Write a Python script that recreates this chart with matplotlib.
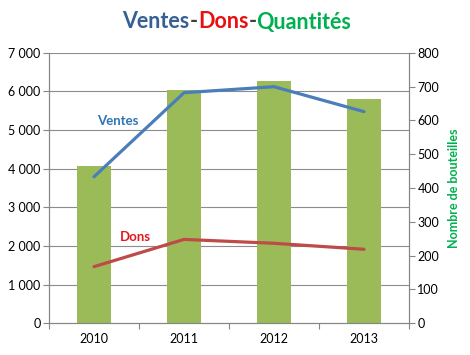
import numpy as np
import matplotlib.pyplot as plt
from matplotlib.ticker import FuncFormatter

plt.rcParams['font.family'] = ['Lato', 'DejaVu Sans']

annees = ['2010', '2011', '2012', '2013']
ventes = [3790, 5965, 6120, 5475]
dons = [1465, 2170, 2070, 1915]
quantites = [465, 690, 717, 664]

fig = plt.figure(figsize=(4.7, 3.55), dpi=100)
ax = fig.add_axes([49/470, 1-323.3/355, 360/470, 270.6/355])
ax2 = ax.twinx()

x = np.arange(len(annees))

# bars on the right axis, lines on the left one
ax2.bar(x, quantites, width=0.38, color='#9BBB59', zorder=2)
ax2.set_ylim(0, 800)
ax2.set_yticks(range(0, 801, 100))

ax.set_zorder(ax2.get_zorder() + 1)
ax.patch.set_visible(False)
ax.plot(x, ventes, color='#4A7EBB', lw=2.3, solid_capstyle='round')
ax.plot(x, dons, color='#BE4B48', lw=2.3, solid_capstyle='round')
ax.set_ylim(0, 7000)
ax.set_xlim(-0.5, 3.5)
ax.set_yticks(range(0, 7001, 1000))
ax.yaxis.set_major_formatter(FuncFormatter(lambda v, p: f'{int(v):,}'.replace(',', ' ')))

# horizontal grid drawn behind the bars
for v in range(1000, 7001, 1000):
    ax2.axhline(v * 800 / 7000, color='#8C8C8C', lw=0.8, zorder=1)

ax.set_xticks(x)
ax.set_xticklabels(annees)
ax.set_xticks(np.arange(-0.5, 3.6, 1), minor=True)
ax.tick_params(axis='x', which='major', length=0, pad=7)
ax.tick_params(axis='x', which='minor', length=4, color='#868686', width=0.8)
ax.tick_params(axis='y', length=4, color='#868686', width=0.8, labelsize=9, pad=2)
ax.tick_params(axis='x', labelsize=9)
ax2.tick_params(axis='y', length=4, color='#868686', width=0.8, labelsize=9, pad=2)

for a in (ax, ax2):
    a.spines['top'].set_visible(False)
    for s in ('left', 'right', 'bottom'):
        a.spines[s].set_color('#868686')
        a.spines[s].set_linewidth(0.8)

ax2.set_ylabel('Nombre de bouteilles', color='#00B050', fontweight='bold', fontsize=9, labelpad=6)

ax.text(0.035, 5240, 'Ventes', color='#2E75B6', fontweight='bold', fontsize=9.5, ha='left', va='center')
ax.text(0.29, 2240, 'Dons', color='#E0191F', fontweight='bold', fontsize=9.5, ha='left', va='center')

# title with coloured words
parts = [('Ventes', '#376092'), ('-', '#404040'), ('Dons', '#E81010'),
         ('-', '#404040'), ('Quantités', '#00B050')]
r = fig.canvas.get_renderer()
texts = []
for s, c in parts:
    t = fig.text(0, 1 - 22/355, s, color=c, fontsize=15.5, fontweight='bold', va='center')
    texts.append(t)
widths = [t.get_window_extent(r).width for t in texts]
xpos = 237 - sum(widths) / 2
for t, w in zip(texts, widths):
    t.set_x(xpos / 470)
    xpos += w

fig.savefig('out.png', dpi=100)
